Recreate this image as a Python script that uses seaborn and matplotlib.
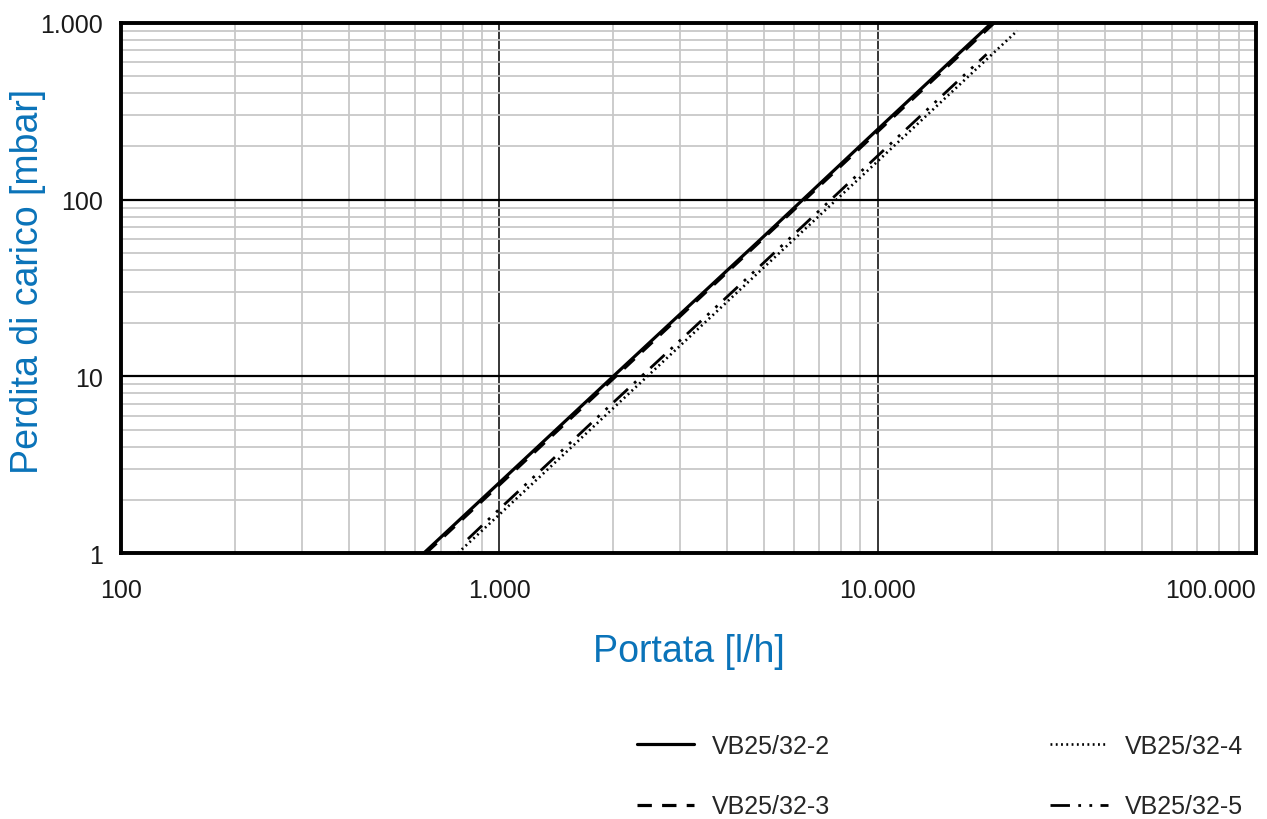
import matplotlib
matplotlib.use("Agg")
import matplotlib.pyplot as plt
import matplotlib.ticker as mticker
import seaborn as sns
import pandas as pd

# flow [l/h] and pressure drop [mbar]
q_2 = [632, 1000, 2000, 5000, 10000, 20000]
dp_2 = [1.0, 2.5, 10.0, 62.0, 250.0, 1000.0]

q_3 = [640, 1000, 2000, 5000, 10000, 20300]
dp_3 = [1.0, 2.43, 9.7, 60.7, 243.0, 1000.0]

q_4 = [777, 1000, 2000, 5000, 10000, 23400]
dp_4 = [1.0, 1.65, 6.6, 41.3, 165.0, 905.0]

q_5 = [826, 1000, 2000, 5000, 10000, 19400]
dp_5 = [1.2, 1.77, 7.1, 44.0, 177.0, 665.0]

series_names = ["VB25/32-2", "VB25/32-3", "VB25/32-4", "VB25/32-5"]
x_ticks = [100, 1000, 10000, 100000]
x_tick_labels = ["100", "1.000", "10.000", "100.000"]
y_ticks = [1, 10, 100, 1000]
y_tick_labels = ["1", "10", "100", "1.000"]

sns.set_style("white")
plt.rcParams["font.family"] = ["Liberation Sans", "DejaVu Sans"]

blue = "#0a73b9"
fig = plt.figure(figsize=(12.67, 8.2), dpi=100)
ax = fig.add_axes([121 / 1267, 1 - 554 / 820, (1256 - 121) / 1267, (554 - 24) / 820])

styles = {
    "VB25/32-2": dict(linestyle="-", linewidth=2.3),
    "VB25/32-3": dict(linestyle=(0, (4.5, 3.2)), linewidth=2.3),
    "VB25/32-4": dict(linestyle=(0, (0.7, 1.3)), linewidth=1.9),
    "VB25/32-5": dict(linestyle=(0, (7, 3, 1, 3, 1, 3)), linewidth=2.0),
}

for name, q, dp in zip(series_names, [q_2, q_3, q_4, q_5], [dp_2, dp_3, dp_4, dp_5]):
    df = pd.DataFrame({"q": q, "dp": dp})
    sns.lineplot(data=df, x="q", y="dp", ax=ax, color="black", label=name,
                 estimator=None, sort=False, **styles[name])

ax.set_xscale("log")
ax.set_yscale("log")
ax.set_xlim(100, 100000)
ax.set_ylim(1, 1000)

ax.xaxis.set_major_locator(mticker.FixedLocator(x_ticks))
ax.yaxis.set_major_locator(mticker.FixedLocator(y_ticks))
ax.xaxis.set_minor_locator(mticker.LogLocator(base=10, subs=range(2, 10)))
ax.yaxis.set_minor_locator(mticker.LogLocator(base=10, subs=range(2, 10)))
ax.xaxis.set_minor_formatter(mticker.NullFormatter())
ax.yaxis.set_minor_formatter(mticker.NullFormatter())
ax.set_xticklabels(x_tick_labels)
ax.set_yticklabels(y_tick_labels)

ax.grid(which="minor", color="#c8c8c8", linewidth=1.3)
ax.grid(which="major", axis="y", color="black", linewidth=1.6)
ax.grid(which="major", axis="x", color="black", linewidth=1.1)
ax.set_axisbelow(True)

for sp in ax.spines.values():
    sp.set_color("black")
    sp.set_linewidth(2.8)

ax.tick_params(which="both", length=0, labelsize=18, labelcolor="#1a1a1a")
ax.tick_params(axis="x", pad=18)
ax.tick_params(axis="y", pad=13)
ax.get_xticklabels()[-1].set_horizontalalignment("right")

ax.set_xlabel("Portata [l/h]", fontsize=27, color=blue, labelpad=22)
ax.set_ylabel("Perdita di carico [mbar]", fontsize=27, color=blue)
ax.yaxis.set_label_coords(-0.066, 0.515)

handles, labels = ax.get_legend_handles_labels()
ax.get_legend().remove()
fig.legend(handles, labels, ncol=2, loc="center", bbox_to_anchor=(0.742, 0.052),
           frameon=False, fontsize=18, handlelength=2.3, handletextpad=0.7,
           columnspacing=8.8, labelspacing=1.45)

fig.savefig("out.png", dpi=100)
